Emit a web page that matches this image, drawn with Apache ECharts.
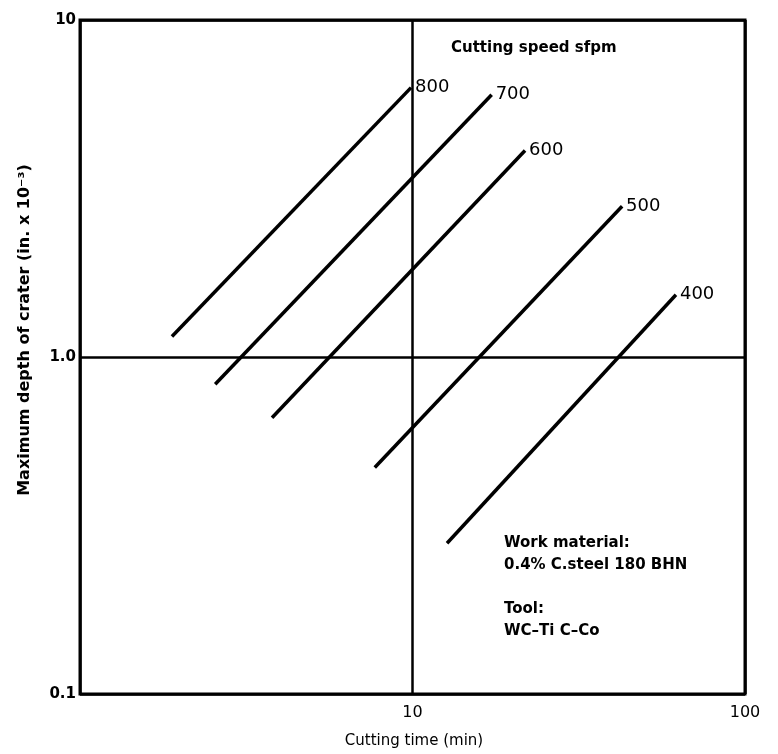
<!DOCTYPE html>
<html>
<head>
<meta charset="utf-8">
<script src="https://cdn.jsdelivr.net/npm/echarts@6/dist/echarts.min.js"></script>
<style>
  html, body { margin: 0; padding: 0; background: #fff; }
  #chart { width: 778px; height: 754px; }
</style>
</head>
<body>
<div id="chart"></div>
<script>
// cutting speed (sfpm) of each line, and its two ends (time in min, crater depth in in. x 10^-3)
const speeds = ['800', '700', '600', '500', '400'];
const startTime = [1.89, 2.55, 3.78, 7.7, 12.7];
const startDepth = [1.15, 0.83, 0.66, 0.47, 0.28];
const endTime = [9.9, 17.3, 21.8, 42.7, 62];
const endDepth = [6.3, 6.0, 4.1, 2.8, 1.53];

const xTicks = { 1: '', 10: '10', 100: '100' };
const yTicks = { 0.1: '0.1', 1: '1.0', 10: '10' };

const font = 'DejaVu Sans';

var chart = echarts.init(document.getElementById('chart'));

var series = speeds.map(function (s, i) {
    return {
        name: s,
        type: 'line',
        data: [[startTime[i], startDepth[i]], [endTime[i], endDepth[i]]],
        symbol: 'none',
        lineStyle: { color: '#000', width: 3.5 },
        endLabel: {
            show: true,
            formatter: '{a}',
            color: '#000',
            fontFamily: font,
            fontSize: 18,
            distance: 4
        },
        silent: true
    };
});

var option = {
    backgroundColor: '#fff',
    animation: false,
    grid: {
        left: 80, right: 33, top: 20, bottom: 60,
        show: true,
        borderColor: '#000',
        borderWidth: 3
    },
    xAxis: {
        type: 'log',
        logBase: 10,
        min: 1,
        max: 100,
        axisLine: { show: false },
        axisTick: { show: false },
        minorTick: { show: false },
        splitLine: { show: true, lineStyle: { color: '#000', width: 2.5 } },
        axisLabel: {
            color: '#000',
            fontFamily: font,
            fontSize: 16,
            margin: 11,
            showMinLabel: true,
            showMaxLabel: true,
            formatter: function (v) { return xTicks[Math.round(v)] || ''; }
        }
    },
    yAxis: {
        type: 'log',
        logBase: 10,
        min: 0.1,
        max: 10,
        axisLine: { show: false },
        axisTick: { show: false },
        minorTick: { show: false },
        splitLine: { show: true, lineStyle: { color: '#000', width: 2.5 } },
        axisLabel: {
            color: '#000',
            fontFamily: font,
            fontSize: 15,
            fontWeight: 'bold',
            margin: 4,
            formatter: function (v) {
                var k = v < 0.5 ? 0.1 : (v < 5 ? 1 : 10);
                return yTicks[k];
            }
        }
    },
    graphic: [
        {
            type: 'text', left: 451, top: 41,
            style: { text: 'Cutting speed sfpm', fill: '#000', font: 'bold 15px "DejaVu Sans"' }
        },
        {
            type: 'text', left: 504, top: 532,
            style: {
                text: 'Work material:\n0.4% C.steel 180 BHN\n\nTool:\nWC\u2013Ti C\u2013Co',
                fill: '#000',
                font: 'bold 15px "DejaVu Sans"',
                lineHeight: 22
            }
        },
        {
            type: 'text', x: 25, y: 330, rotation: Math.PI / 2,
            style: {
                text: 'Maximum depth of crater (in. x 10\u207b\u00b3)',
                fill: '#000',
                font: 'bold 16px "DejaVu Sans"',
                align: 'center',
                verticalAlign: 'middle'
            }
        },
        {
            type: 'text', x: 414, y: 741,
            style: {
                text: 'Cutting time (min)',
                fill: '#000',
                font: '15px "DejaVu Sans"',
                align: 'center',
                verticalAlign: 'middle'
            }
        }
    ],
    series: series
};

chart.setOption(option);
</script>
</body>
</html>
